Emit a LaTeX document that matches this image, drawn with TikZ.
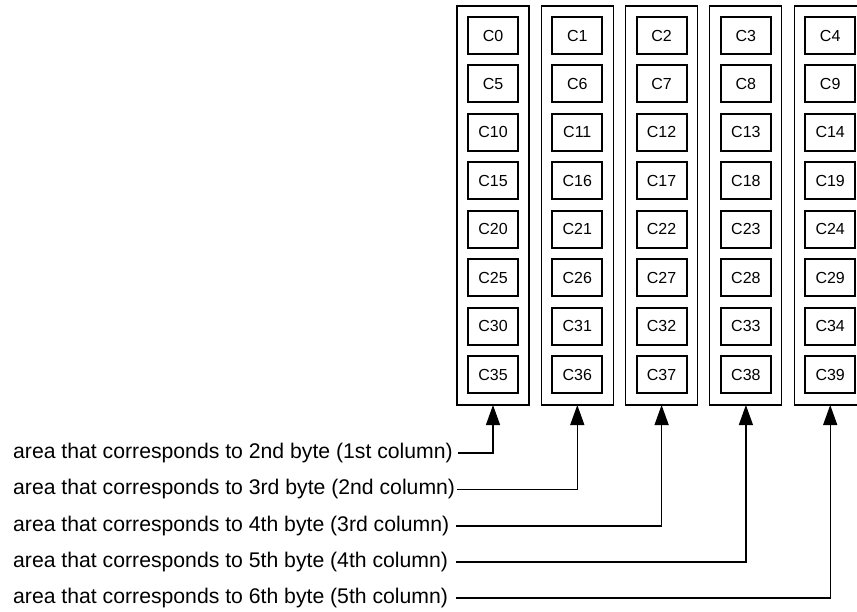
\documentclass[tikz,border=0pt]{standalone}
\usepackage{fontspec}
\setmainfont{Liberation Sans}
\usetikzlibrary{arrows.meta}
\begin{document}
\begin{tikzpicture}[x=1pt,y=-1pt,
  colbox/.style={draw,line width=1.1pt,minimum width=72pt,minimum height=399pt,inner sep=0pt,outer sep=0pt},
  cell/.style={draw,line width=2pt,minimum width=50pt,minimum height=37pt,inner sep=0pt,font=\fontsize{16}{18}\selectfont},
  lbl/.style={anchor=west,inner sep=0pt,font=\fontsize{21.2}{24}\selectfont},
  conn/.style={line width=1.3pt,-{Triangle[length=20pt,width=14pt]}}]
\clip (0,0) rectangle (857,611);
\fill[white] (0,0) rectangle (857,611);
\foreach \i in {0,...,4}{
  \node[colbox] (col\i) at ({493+84.3*\i},205.5) {};
  \foreach \r in {0,...,7}{
    \pgfmathtruncatemacro\n{5*\r+\i}
    \node[cell] (c\n) at ({493+84.3*\i},{35.5+48.43*\r}) {C\n};
  }
}
\node[lbl] (t1) at (13,453) {area that corresponds to 2nd byte (1st column)};
\node[lbl] (t2) at (13,489.5) {area that corresponds to 3rd byte (2nd column)};
\node[lbl] (t3) at (13,526) {area that corresponds to 4th byte (3rd column)};
\node[lbl] (t4) at (13,562) {area that corresponds to 5th byte (4th column)};
\node[lbl] (t5) at (13,598) {area that corresponds to 6th byte (5th column)};
\coordinate (s1) at (458,453);
\coordinate (s2) at (457,489.5);
\coordinate (s3) at (456,526);
\coordinate (s4) at (456,562);
\coordinate (s5) at (456,598);
\draw[conn] (s1) -| (col0.south);
\draw[conn] (s2) -| (col1.south);
\draw[conn] (s3) -| (col2.south);
\draw[conn] (s4) -| (col3.south);
\draw[conn] (s5) -| (col4.south);
\end{tikzpicture}
\end{document}
